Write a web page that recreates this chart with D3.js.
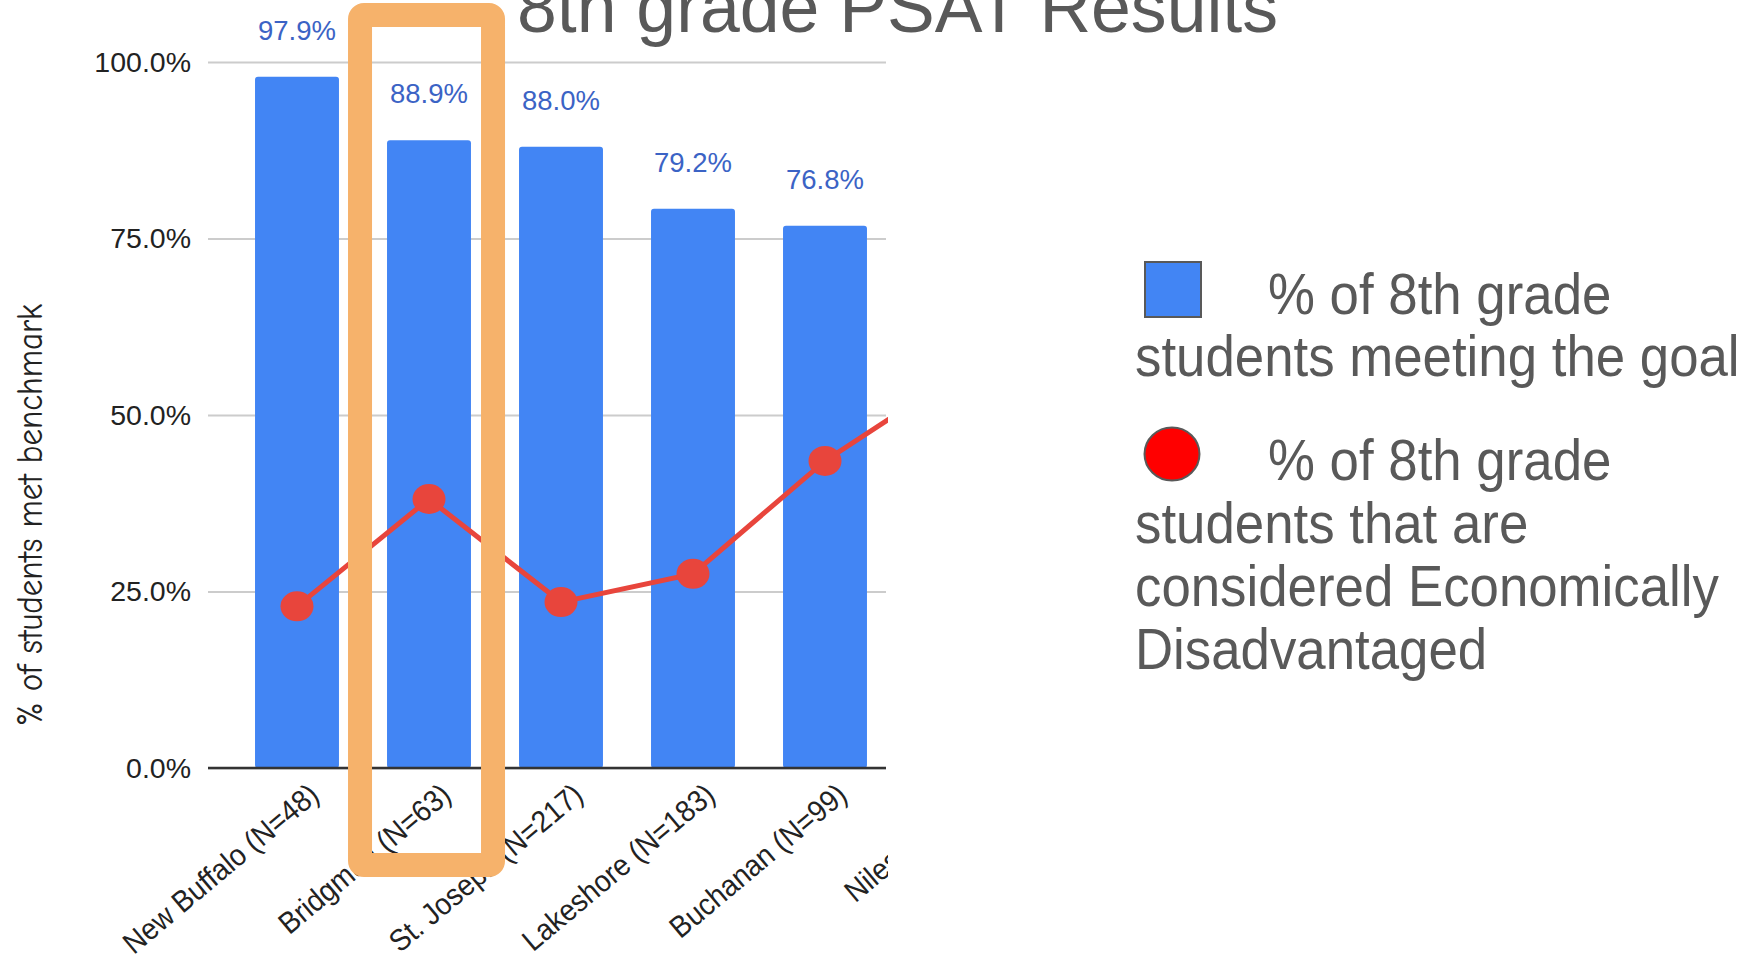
<!DOCTYPE html>
<html><head><meta charset="utf-8">
<script src="https://cdn.jsdelivr.net/npm/d3@7"></script>
<style>body{margin:0;background:#fff;} svg{display:block;}</style>
</head><body>
<svg id="c" width="1762" height="954"></svg>
<script>
// ---- data ----
const schools = ["New Buffalo", "Bridgman", "St. Joseph", "Lakeshore", "Buchanan", "Niles"];
const counts = [48, 63, 217, 183, 99, null];
const metGoal = [97.9, 88.9, 88.0, 79.2, 76.8, null];
const econDisadv = [22.9, 38.1, 23.5, 27.5, 43.5, 55.7];
const yTicks = [0, 25, 50, 75, 100];
const chartTitle = "8th grade PSAT Results";
const yTitle = "% of students met benchmark";
const legendBar = ["% of 8th grade", "students meeting the goal"];
const legendLine = ["% of 8th grade", "students that are", "considered Economically", "Disadvantaged"];
const highlighted = "Bridgman";

// ---- layout ----
const svg = d3.select("#c");
const W = 1762, H = 954;
const plotLeft = 208, plotRight = 886, clipRight = 888;
const x = d3.scaleBand().domain(schools).range([231, 1023]).paddingInner(0.364).paddingOuter(0.182);
const y = d3.scaleLinear().domain([0, 100]).range([768, 62]);
const cx = s => x(s) + x.bandwidth() / 2;
const fmt = v => d3.format(".1f")(v) + "%";
const AX = "'Liberation Sans', Arial, sans-serif";

svg.append("defs").append("clipPath").attr("id", "clip")
  .append("rect").attr("x", 0).attr("y", 0).attr("width", clipRight).attr("height", H);

// title (behind)
svg.append("text").text(chartTitle)
  .attr("x", 517).attr("y", 32)
  .attr("font-family", AX).attr("font-size", 72)
  .attr("textLength", 761).attr("lengthAdjust", "spacingAndGlyphs")
  .attr("fill", "#595959");

// y gridlines + labels via axis
const yAxis = d3.axisLeft(y).tickValues(yTicks).tickFormat(fmt)
  .tickSize(-(plotRight - plotLeft)).tickPadding(17);
const gy = svg.append("g").attr("transform", `translate(${plotLeft},0)`).call(yAxis);
gy.select(".domain").remove();
gy.selectAll(".tick line").attr("stroke", "#cccccc").attr("stroke-width", 2);
gy.selectAll(".tick text").attr("font-family", AX).attr("font-size", 28.5).attr("fill", "#222");

const g = svg.append("g").attr("clip-path", "url(#clip)");

// bars
const barData = schools.map((s, i) => ({ s, v: metGoal[i] })).filter(d => d.v != null);
g.selectAll("rect.bar").data(barData).join("rect").attr("class", "bar")
  .attr("x", d => x(d.s)).attr("width", x.bandwidth())
  .attr("y", d => y(d.v)).attr("height", d => y(0) - y(d.v))
  .attr("rx", 3).attr("fill", "#4285f4");

// baseline
g.append("line").attr("x1", plotLeft).attr("x2", plotRight)
  .attr("y1", y(0)).attr("y2", y(0)).attr("stroke", "#333").attr("stroke-width", 2.5);

// value labels
g.selectAll("text.val").data(barData).join("text").attr("class", "val")
  .attr("x", d => cx(d.s)).attr("y", d => y(d.v) - 37)
  .attr("text-anchor", "middle").attr("font-family", AX).attr("font-size", 27.5)
  .attr("fill", "#3b63c5").text(d => fmt(d.v));

// line series
const lineData = schools.map((s, i) => ({ s, v: econDisadv[i] }));
g.append("path").datum(lineData)
  .attr("d", d3.line().x(d => cx(d.s)).y(d => y(d.v)))
  .attr("fill", "none").attr("stroke", "#e8453c").attr("stroke-width", 5);
g.selectAll("ellipse.pt").data(lineData).join("ellipse").attr("class", "pt")
  .attr("cx", d => cx(d.s)).attr("cy", d => y(d.v))
  .attr("rx", 16.5).attr("ry", 15).attr("fill", "#e8453c");

// x labels (rotated)
const ang = 40, rad = ang * Math.PI / 180;
const dir = [Math.cos(rad), -Math.sin(rad)];
const tmp = svg.append("text").attr("font-family", AX).attr("font-size", 28).text(" (N=000)");
const suffixW = tmp.node().getComputedTextLength();
tmp.remove();
schools.forEach((s, i) => {
  const label = counts[i] != null ? `${s} (N=${counts[i]})` : s;
  let ex = cx(s) + 24, ey = 798;
  if (counts[i] == null) { ex -= dir[0] * suffixW; ey -= dir[1] * suffixW; }
  g.append("text").text(label)
    .attr("transform", `translate(${ex},${ey}) rotate(${-ang}) scale(1,1.08)`)
    .attr("text-anchor", "end").attr("font-family", AX).attr("font-size", 28).attr("fill", "#222");
});

// y title
svg.append("text").text(yTitle)
  .attr("transform", `translate(42,515) rotate(-90)`)
  .attr("text-anchor", "middle")
  .attr("font-family", "'Comic Sans MS', 'Comic Neue', Lato, sans-serif").attr("font-size", 36)
  .attr("textLength", 422).attr("lengthAdjust", "spacingAndGlyphs")
  .attr("fill", "#222");

// highlight box
svg.append("rect")
  .attr("x", x(highlighted) - 27).attr("y", y(100) - 47)
  .attr("width", x.step() + 1).attr("height", 865 - (y(100) - 47))
  .attr("rx", 4).attr("fill", "none").attr("stroke", "#f6b26b").attr("stroke-width", 24);

// legend
const LF = "'Liberation Sans', Arial, sans-serif";
function legendText(lines, firstX, otherX, y0, lh) {
  lines.forEach((t, i) => {
    svg.append("text").text(t)
      .attr("transform", `translate(${i === 0 ? firstX : otherX},${y0 + i * lh}) scale(1,1.09)`)
      .attr("font-family", LF).attr("font-size", 52.8).attr("fill", "#595959");
  });
}
svg.append("rect").attr("x", 1145).attr("y", 262).attr("width", 56).attr("height", 55)
  .attr("fill", "#4285f4").attr("stroke", "#595959").attr("stroke-width", 2);
legendText(legendBar, 1268, 1135, 314, 62);
svg.append("ellipse").attr("cx", 1172).attr("cy", 454).attr("rx", 27.5).attr("ry", 26.5)
  .attr("fill", "#ff0000").attr("stroke", "#595959").attr("stroke-width", 2);
legendText(legendLine, 1268, 1135, 480, 63);
</script>
</body></html>
